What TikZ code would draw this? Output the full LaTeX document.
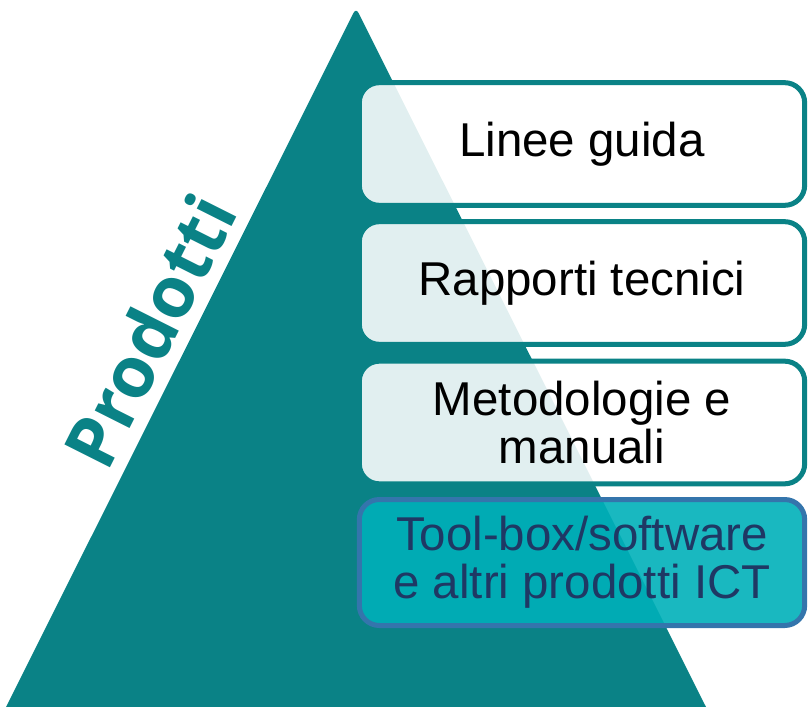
\documentclass[tikz,border=0pt]{standalone}
\usepackage{fontspec}
\setmainfont{Liberation Sans}
\newfontfamily\prodfont{Open Sans}
\definecolor{petrol}{RGB}{10,130,134}
\definecolor{cyanbox}{RGB}{0,176,185}
\definecolor{bluerim}{RGB}{52,117,172}
\definecolor{navytext}{RGB}{31,56,100}
\tikzset{
  level/.style={draw=petrol, line width=3.75pt, fill=white, fill opacity=.88,
    text opacity=1, rounded corners=15pt, minimum width=334pt,
    minimum height=92pt, align=center, inner sep=0pt,
    font=\fontsize{35.6}{36}\selectfont},
  toplevel/.style={level, draw=bluerim, fill=cyanbox, fill opacity=.9,
    text=navytext, minimum height=94.5pt},
  pyramidlabel/.style={text=petrol, rotate=63.3, anchor=base,
    font=\prodfont\bfseries\fontsize{53.5}{53.5}\selectfont}
}
\begin{document}
\begin{tikzpicture}[x=0.75pt, y=-0.75pt]
\useasboundingbox (0,0) rectangle (808,707);

% pyramid, apex (356,8), base 6..706
\fill[petrol] (6,707) [rounded corners=4pt] -- (356,8) [sharp corners] -- (706,707) -- cycle;

% baseline about 12px off the left edge
\node[pyramidlabel] (prodotti) at (173,343) {Prodotti};

\node[level]    (guida)    at (582,144)   {Linee guida};
\node[level]    (rapporti) at (582,283)   {Rapporti tecnici};
\node[level]    (metodi)   at (582,422.5) {Metodologie e\\manuali};
\node[toplevel] (toolbox)  at (582,562.5) {Tool-box/software\\e altri prodotti ICT};
\end{tikzpicture}
\end{document}
